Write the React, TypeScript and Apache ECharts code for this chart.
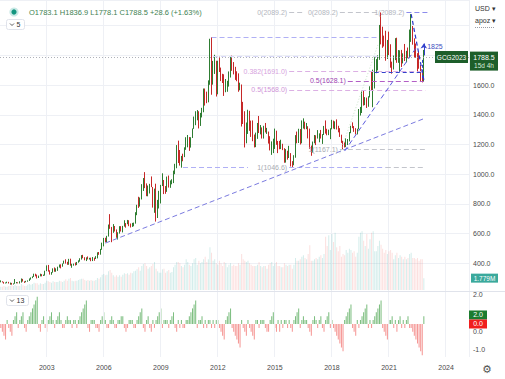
import React, { useEffect, useRef } from 'react';
import * as echarts from 'echarts';

const FONT = '"Liberation Sans", Arial, sans-serif';

// monthly categories start Aug 2000, axis extends to Mar 2025
const firstYear = 2000;
const firstMonth = 8;
const monthCount = 296;
const yearTicks = ['2003', '2006', '2009', '2012', '2015', '2018', '2021', '2024'];
const priceTicks = [400, 600, 800, 1000, 1200, 1400, 1600];
const oscTickLabels = [2, 0, -1];

const opens = [
  276, 278, 274, 265, 270,
  274, 266, 267, 258, 264, 267, 271, 266, 274, 294, 279, 275,
  279, 282, 297, 302, 308, 326, 318, 304, 312, 324, 317, 318,
  348, 368, 347, 336, 339, 364, 346, 355, 375, 388, 386, 398,
  417, 400, 397, 427, 388, 393, 395, 391, 408, 416, 428, 453,
  438, 422, 435, 428, 436, 417, 436, 429, 433, 473, 470, 495,
  517, 569, 556, 583, 654, 643, 613, 633, 623, 599, 604, 646,
  632, 650, 665, 663, 679, 659, 650, 665, 673, 743, 789, 783,
  834, 923, 971, 916, 865, 887, 930, 913, 834, 880, 718, 814,
  884, 928, 942, 916, 883, 980, 927, 955, 955, 1001, 1040, 1180,
  1097, 1081, 1118, 1115, 1180, 1215, 1245, 1181, 1248, 1308, 1357, 1385,
  1421, 1332, 1411, 1439, 1556, 1536, 1500, 1628, 1829, 1620, 1725, 1746,
  1566, 1738, 1711, 1669, 1664, 1561, 1604, 1610, 1692, 1776, 1719, 1712,
  1675, 1663, 1578, 1597, 1472, 1393, 1224, 1312, 1396, 1327, 1323, 1250,
  1202, 1240, 1326, 1284, 1296, 1250, 1322, 1282, 1286, 1210, 1171, 1182,
  1184, 1279, 1213, 1183, 1182, 1190, 1172, 1095, 1132, 1115, 1142, 1064,
  1061, 1118, 1238, 1232, 1293, 1215, 1322, 1350, 1309, 1316, 1277, 1173,
  1152, 1211, 1253, 1249, 1268, 1268, 1242, 1269, 1322, 1280, 1271, 1275,
  1303, 1345, 1318, 1325, 1315, 1299, 1253, 1224, 1206, 1191, 1215, 1222,
  1282, 1325, 1316, 1298, 1284, 1306, 1413, 1437, 1529, 1472, 1513, 1464,
  1523, 1587, 1566, 1596, 1700, 1751, 1800, 1986, 1978, 1895, 1879, 1780,
  1895, 1850, 1728, 1715, 1768, 1905, 1771, 1817, 1818, 1757, 1784, 1776,
  1829, 1796, 1909, 1954, 1911, 1848, 1807, 1781, 1726, 1672, 1640,
];

const highs = [
  285, 279, 275, 271, 276,
  275, 270, 268, 265, 294, 274, 272, 279, 298, 295, 279, 282,
  285, 298, 305, 312, 330, 330, 324, 317, 330, 327, 324, 350,
  386, 389, 353, 341, 366, 372, 366, 377, 392, 393, 399, 418,
  427, 410, 430, 431, 397, 398, 405, 409, 420, 434, 455, 457,
  441, 440, 446, 437, 438, 442, 438, 448, 474, 476, 497, 539,
  571, 572, 585, 661, 731, 645, 664, 651, 628, 609, 650, 650,
  652, 690, 671, 692, 690, 668, 672, 674, 744, 794, 848, 843,
  933, 974, 1014, 938, 924, 935, 985, 914, 903, 936, 827, 888,
  928, 1006, 961, 920, 984, 991, 958, 966, 1024, 1070, 1196, 1226,
  1163, 1123, 1138, 1181, 1249, 1264, 1250, 1249, 1308, 1388, 1424, 1432,
  1424, 1413, 1447, 1577, 1577, 1556, 1632, 1912, 1923, 1763, 1804, 1764,
  1764, 1791, 1718, 1676, 1673, 1641, 1629, 1692, 1790, 1798, 1755, 1723,
  1693, 1679, 1616, 1604, 1487, 1424, 1348, 1434, 1427, 1361, 1362, 1267,
  1280, 1345, 1392, 1331, 1315, 1326, 1345, 1312, 1287, 1256, 1221, 1239,
  1307, 1293, 1224, 1224, 1232, 1205, 1175, 1169, 1158, 1191, 1142, 1088,
  1128, 1263, 1287, 1306, 1304, 1362, 1376, 1354, 1345, 1323, 1307, 1193,
  1220, 1264, 1262, 1297, 1275, 1298, 1270, 1325, 1362, 1306, 1300, 1309,
  1366, 1361, 1356, 1369, 1326, 1310, 1266, 1225, 1214, 1243, 1237, 1284,
  1326, 1349, 1324, 1310, 1306, 1439, 1453, 1557, 1566, 1519, 1516, 1525,
  1592, 1689, 1704, 1788, 1775, 1800, 2005, 2089.2, 1993, 1933, 1966, 1904,
  1960, 1875, 1758, 1799, 1916, 1919, 1836, 1834, 1837, 1814, 1877, 1831,
  1853, 1974, 2078, 1998, 1915, 1880, 1815, 1824, 1735, 1681, 1836.9,
];

const lows = [
  272, 271, 263, 264, 266,
  264, 256, 256, 257, 262, 265, 265, 264, 270, 277, 268, 272,
  276, 281, 290, 300, 308, 312, 298, 301, 312, 312, 315, 317,
  347, 344, 324, 323, 337, 343, 343, 349, 371, 366, 377, 397,
  398, 390, 390, 384, 370, 384, 385, 388, 404, 411, 425, 434,
  420, 415, 426, 425, 414, 415, 417, 429, 433, 457, 458, 491,
  514, 541, 543, 580, 632, 542, 605, 614, 572, 560, 600, 614,
  608, 647, 640, 663, 650, 641, 645, 649, 667, 724, 773, 782,
  830, 887, 906, 852, 851, 870, 913, 775, 740, 681, 705, 769,
  803, 920, 866, 868, 881, 910, 908, 932, 940, 1000, 1040, 1075,
  1058, 1044, 1087, 1115, 1164, 1181, 1157, 1179, 1244, 1305, 1330, 1363,
  1308, 1325, 1382, 1417, 1462, 1478, 1484, 1602, 1535, 1603, 1675, 1523,
  1538, 1688, 1627, 1614, 1527, 1552, 1555, 1590, 1651, 1696, 1672, 1635,
  1626, 1555, 1565, 1321, 1338, 1180, 1208, 1271, 1292, 1251, 1222, 1180,
  1182, 1238, 1277, 1268, 1240, 1240, 1281, 1271, 1206, 1160, 1130, 1142,
  1170, 1198, 1142, 1168, 1169, 1162, 1077, 1078, 1098, 1109, 1052, 1046.6,
  1060, 1111, 1208, 1210, 1200, 1208, 1307, 1302, 1303, 1241, 1171, 1124,
  1146, 1208, 1196, 1240, 1215, 1240, 1204, 1264, 1273, 1262, 1263, 1236,
  1302, 1307, 1303, 1301, 1282, 1251, 1211, 1167.1, 1180, 1182, 1196, 1221,
  1276, 1310, 1285, 1268, 1268, 1302, 1395, 1412, 1462, 1465, 1446, 1454,
  1517, 1564, 1451, 1577, 1680, 1699, 1770, 1874, 1851, 1860, 1764, 1776,
  1802, 1717, 1677, 1705, 1768, 1750, 1750, 1688, 1722, 1746, 1762, 1753,
  1781, 1788, 1891, 1872, 1786, 1784, 1681, 1710, 1622, 1618, 1623,
];

const closes = [
  278, 274, 265, 270, 274,
  266, 267, 258, 264, 267, 271, 266, 274, 294, 279, 275, 279,
  282, 297, 302, 308, 326, 318, 304, 312, 324, 317, 318, 348,
  368, 347, 336, 339, 364, 346, 355, 375, 388, 386, 398, 417,
  400, 397, 427, 388, 393, 395, 391, 408, 416, 428, 453, 438,
  422, 435, 428, 436, 417, 436, 429, 433, 473, 470, 495, 517,
  569, 556, 583, 654, 643, 613, 633, 623, 599, 604, 646, 632,
  650, 665, 663, 679, 659, 650, 665, 673, 743, 789, 783, 834,
  923, 971, 916, 865, 887, 930, 913, 834, 880, 718, 814, 884,
  928, 942, 916, 883, 980, 927, 955, 955, 1001, 1040, 1180, 1097,
  1081, 1118, 1115, 1180, 1215, 1245, 1181, 1248, 1308, 1357, 1385, 1421,
  1332, 1411, 1439, 1556, 1536, 1500, 1628, 1829, 1620, 1725, 1746, 1566,
  1738, 1711, 1669, 1664, 1561, 1604, 1610, 1692, 1776, 1719, 1712, 1675,
  1663, 1578, 1597, 1472, 1393, 1224, 1312, 1396, 1327, 1323, 1250, 1202,
  1240, 1326, 1284, 1296, 1250, 1322, 1282, 1286, 1210, 1171, 1182, 1184,
  1279, 1213, 1183, 1182, 1190, 1172, 1095, 1132, 1115, 1142, 1064, 1061,
  1118, 1238, 1232, 1293, 1215, 1322, 1350, 1309, 1316, 1277, 1173, 1152,
  1211, 1253, 1249, 1268, 1268, 1242, 1269, 1322, 1280, 1271, 1275, 1303,
  1345, 1318, 1325, 1315, 1299, 1253, 1224, 1206, 1191, 1215, 1222, 1282,
  1325, 1316, 1298, 1284, 1306, 1413, 1437, 1529, 1472, 1513, 1464, 1523,
  1587, 1566, 1596, 1700, 1751, 1800, 1986, 1978, 1895, 1879, 1780, 1895,
  1850, 1728, 1715, 1768, 1905, 1771, 1817, 1818, 1757, 1784, 1776, 1829,
  1796, 1909, 1954, 1911, 1848, 1807, 1781, 1726, 1672, 1640, 1788.5,
];

// volume, millions of contracts
const volumesM = [
  0.5, 0.5, 0.6, 0.5, 0.5,
  0.6, 0.6, 0.7, 0.6, 0.8, 0.6, 0.6, 0.6, 0.9, 0.7, 0.6, 0.6,
  0.8, 0.9, 0.8, 0.9, 1.1, 1.0, 1.0, 0.8, 1.0, 0.9, 0.9, 1.1,
  1.4, 1.3, 1.2, 1.1, 1.3, 1.2, 1.2, 1.2, 1.4, 1.3, 1.2, 1.4,
  1.6, 1.4, 1.7, 1.8, 1.4, 1.3, 1.4, 1.4, 1.5, 1.6, 1.7, 1.7,
  1.5, 1.4, 1.5, 1.4, 1.5, 1.4, 1.4, 1.5, 1.8, 1.7, 1.9, 2.3,
  2.4, 2.2, 2.3, 2.8, 3.0, 2.6, 2.2, 2.0, 2.2, 2.0, 2.2, 2.0,
  2.3, 2.5, 2.4, 2.5, 2.3, 2.6, 2.5, 2.8, 2.9, 3.1, 3.4, 2.9,
  3.6, 3.9, 4.0, 3.6, 3.2, 3.4, 3.6, 3.9, 4.2, 3.2, 2.8, 2.6,
  2.6, 3.1, 3.2, 2.6, 2.8, 3.0, 2.6, 2.7, 3.4, 3.8, 4.2, 4.2,
  4.0, 3.6, 3.4, 3.8, 4.6, 4.2, 3.8, 3.6, 4.0, 4.6, 4.8, 3.8,
  4.4, 4.0, 4.2, 4.6, 5.0, 4.2, 4.6, 6.4, 5.6, 4.4, 4.6, 4.0,
  3.8, 4.4, 4.0, 3.6, 4.2, 4.0, 3.4, 3.8, 4.0, 3.6, 3.8, 3.6,
  3.6, 4.0, 3.8, 5.4, 4.6, 4.4, 4.2, 4.4, 4.0, 3.8, 3.6, 3.6,
  3.6, 3.8, 4.2, 3.6, 3.4, 3.6, 3.6, 3.2, 3.8, 4.0, 4.2, 3.6,
  4.0, 4.2, 3.6, 3.6, 3.4, 3.4, 4.0, 3.8, 3.6, 3.8, 3.8, 3.2,
  3.8, 4.8, 4.4, 4.4, 4.6, 5.0, 5.2, 4.8, 4.6, 5.4, 6.7, 4.4,
  4.4, 4.6, 4.8, 4.6, 5.0, 5.2, 4.8, 5.4, 8.0, 6.6, 8.2, 6.0,
  8.4, 7.2, 8.6, 6.4, 5.8, 6.6, 5.0, 5.4, 5.2, 6.0, 5.6, 6.2,
  6.0, 5.6, 5.8, 5.0, 5.6, 8.0, 8.6, 8.8, 7.4, 6.6, 8.4, 6.2,
  7.6, 8.6, 8.8, 5.8, 5.8, 6.6, 7.4, 6.8, 6.2, 5.6, 6.0, 5.4,
  5.8, 6.0, 5.6, 4.6, 5.2, 5.6, 4.8, 5.2, 5.0, 4.6, 5.0, 4.6,
  4.8, 5.4, 5.6, 4.8, 4.8, 4.6, 4.8, 4.4, 4.6, 4.6, 1.779,
];

// sequential count oscillator (up counts positive, down counts negative)
const seqCounts = [
  -1, -2, -3, -4, 1, -1, -2, -3, 1, 2, 3, -1, 1, 2, 3, -1, -2,
  1, 2, 3, 4, 5, 6, 7,
  -1, -2, 1, 2, -1, -2,
  1, 2, 3, 1, -1, 1, 2, 3, 1, -1, -1,
  1, 2, 1, 1, -1, 1, 1, -1,
  1, 2, 3, 4, 5, 6,
  -1, -2, 1, 1, 1, -1, -1, -2,
  1, 2, 3, 1, -1, -1, 1, 2, 1,
  -1, -1, 1, 1, 2, 2, -1, -2, -1,
  1, 1, 1, -1, -1, 1, 2, 3, 4,
  -1, -2, 1, 2, -1, -2, 1, -1,
  1, 2, 3, 4, -1, 1, 1, 1, -1, 1, 2, 3, -1, -2,
  1, -1, 1, -1, -1, 1, 1, 2, 3, 4, 5, 6,
  -1, 1, 1, 2, -1, 1, -1, 1, 1, -1, 1, -1, 1,
  1, -1, -2, -3, -4,
  1, 2, 3, 4,
  -1, -2, -3, -4, -5, -6,
  1, -1, -2, -3,
  1, -1, -2, -3, -4,
  1, 1, -1, 1, 1, 1, -1, -2, -2,
  1, 2, 3, -1, -2, 1,
  -2, 1, -1, 1, 1, -1, 1, -1, -2,
  1, 2, 3, 4,
  -1, 1, 2, 1, 1, -1, -2, -3,
  1, 2, 1, -1, 1, 2, -1, -2,
  1, 2, 3, -1, 1,
  -1, -2, -3, -4, -5, -6, -7,
  1, 2, 3, 4, 5,
  -1, -2, -3,
  1, -1, 1, 2, 3, 4, 5,
  -1, 1, -1,
  1, 2, 3, 4, 5, 6,
  -1, -2, -3, -4,
  1, 1, 2, -1, 1, -2, 1, 2, -1, 1, -1, 1, 2, -1,
  -1, -2, -3, -4, -5, -6, -7, -8,
  2,
];

// chart drawings: [category, price] endpoints
type Drawing = { from: [string, number]; to: [string, number]; color: string; dash: number[]; width?: number; text?: string; textColor?: string; arrow?: boolean };
const drawings: Drawing[] = [
  { from: ['2011-09', 1923], to: ['2020-07', 1923], color: '#b0b0f5', dash: [5, 3] },
  { from: ['2015-10', 2089.2], to: ['2016-08', 2089.2], color: '#c3c5cc', dash: [5, 3], text: '0(2089.2)', textColor: '#b2b5be' },
  { from: ['2018-06', 2089.2], to: ['2020-06', 2089.2], color: '#c3c5cc', dash: [5, 3], text: '0(2089.2)', textColor: '#b2b5be' },
  { from: ['2021-12', 2089.2], to: ['2023-02', 2089.2], color: '#8c8cec', dash: [5, 3], text: '1(2089.2)', textColor: '#b2b5be' },
  { from: ['2011-10', 1795], to: ['2020-06', 1795], color: '#d8d8f7', dash: [5, 3] },
  { from: ['2015-10', 1691], to: ['2022-12', 1691], color: '#dcb0e4', dash: [5, 3], text: '0.382(1691.0)', textColor: '#d6a3de' },
  { from: ['2018-11', 1628.1], to: ['2022-11', 1628.1], color: '#b25ec6', dash: [5, 3], text: '0.5(1628.1)', textColor: '#9c3fb2' },
  { from: ['2015-10', 1568], to: ['2022-12', 1568], color: '#dcb0e4', dash: [5, 3], text: '0.5(1568.0)', textColor: '#cf95d8' },
  { from: ['2018-06', 1167.1], to: ['2022-12', 1167.1], color: '#c3c5cc', dash: [5, 3], text: '1(1167.1)', textColor: '#a8abb3' },
  { from: ['2010-03', 1046.6], to: ['2013-08', 1046.6], color: '#b0b0f5', dash: [5, 3] },
  { from: ['2015-10', 1046.6], to: ['2020-11', 1046.6], color: '#b0b0f5', dash: [5, 3], text: '1(1046.6)', textColor: '#a8abb3' },
  { from: ['2020-11', 1046.6], to: ['2022-12', 1046.6], color: '#c3c5cc', dash: [5, 3] },
  { from: ['2006-02', 536], to: ['2022-12', 1378], color: '#7b7be0', dash: [5, 3] },
  { from: ['2018-09', 1156], to: ['2022-06', 1849], color: '#5a5ade', dash: [5, 3] },
  { from: ['2018-06', 1140], to: ['2020-06', 1870], color: '#c8e4c8', dash: [1, 2] },
  { from: ['2022-03', 2078], to: ['2022-11', 1634], color: '#2a36c8', dash: [4, 3], width: 1.2 },
  { from: ['2020-04', 1688], to: ['2022-10', 1688], color: '#3341cc', dash: [4, 3] },
  { from: ['2022-10', 1770], to: ['2022-10', 1640], color: '#3341cc', dash: [3, 2] },
  { from: ['2022-11', 1800], to: ['2022-11', 1880], color: '#3341cc', dash: [], arrow: true },
];
const rangeLabel = { at: ['2023-06', 1862] as [string, number], text: '1825' };

const headerText = 'O1783.1 H1836.9 L1778.1 C1788.5 +28.6 (+1.63%)';
const symbolText = 'GCG2023';
const countdownText = '15d 4h';
const volumeText = '1.779M';

const UP = '#2e7d32';
const DOWN = '#c62828';

export default function App() {
  const ref = useRef<HTMLDivElement>(null);
  useEffect(() => {
    const el = ref.current;
    if (!el) return;
    const chart = echarts.init(el, undefined, { renderer: 'svg' });

    const categories: string[] = [];
    for (let i = 0; i < monthCount; i++) {
      const t = firstYear * 12 + (firstMonth - 1) + i;
      const y = Math.floor(t / 12);
      const m = (t % 12) + 1;
      categories.push(`${y}-${m < 10 ? '0' + m : m}`);
    }
    const isYearTick = (_i: number, v: string) => v.endsWith('-01') && yearTicks.includes(v.slice(0, 4));

    const candleData = closes.map((c, i) => [opens[i], c, lows[i], highs[i]]);
    const volData = volumesM.map((v, i) => ({
      value: v,
      itemStyle: { color: closes[i] >= opens[i] ? 'rgba(38,166,154,0.2)' : 'rgba(239,83,80,0.18)' },
    }));
    const oscData = seqCounts.map((v) => ({
      value: v,
      itemStyle: { color: v >= 0 ? 'rgba(67,160,71,0.68)' : 'rgba(239,83,80,0.6)' },
    }));

    const markLineData: any[] = drawings.map((d) => [
      {
        coord: d.from,
        lineStyle: { color: d.color, type: d.dash.length ? d.dash : 'solid', width: d.width || 1 },
        label: d.text
          ? { show: true, position: 'start', formatter: d.text, color: d.textColor, fontSize: 7, fontFamily: FONT, distance: 2 }
          : { show: false },
      },
      d.arrow ? { coord: d.to, symbol: 'arrow', symbolSize: 5 } : { coord: d.to },
    ]);
    const lastClose = closes[closes.length - 1];
    markLineData.push({
      yAxis: lastClose,
      lineStyle: { color: '#9a9da6', type: [1, 2], width: 0.8 },
      label: { show: false },
    });

    const axisLabelStyle = { color: '#4a4a4a', fontSize: 7, fontFamily: FONT };

    chart.setOption({
      animation: false,
      textStyle: { fontFamily: FONT },
      grid: [
        { left: 0, top: 0, width: 469, height: 293 },
        { left: 0, top: 190, width: 469, height: 100 },
        { left: 0, top: 292, width: 469, height: 65 },
      ],
      xAxis: [
        {
          type: 'category', gridIndex: 0, data: categories, boundaryGap: true,
          axisLine: { show: false }, axisTick: { show: false }, axisLabel: { show: false },
          splitLine: { show: true, interval: isYearTick, lineStyle: { color: '#eef0f5', width: 1 } },
        },
        { type: 'category', gridIndex: 1, data: categories, boundaryGap: true, show: false },
        {
          type: 'category', gridIndex: 2, data: categories, boundaryGap: true, z: 3,
          axisLine: { show: false }, axisTick: { show: false },
          axisLabel: { ...axisLabelStyle, interval: isYearTick, formatter: (v: string) => v.slice(0, 4), margin: 7 },
          splitLine: { show: true, interval: isYearTick, lineStyle: { color: '#eef0f5', width: 1 } },
        },
      ],
      yAxis: [
        {
          type: 'value', gridIndex: 0, position: 'right', min: 200, max: 2173, interval: 200,
          axisLine: { show: false }, axisTick: { show: false },
          splitLine: { show: true, lineStyle: { color: '#eef0f5', width: 1 } },
          axisLabel: {
            ...axisLabelStyle, margin: 4,
            formatter: (v: number) => (priceTicks.includes(v) ? v.toFixed(1) : ''),
          },
        },
        { type: 'value', gridIndex: 1, min: 0, max: 15, show: false },
        { type: 'value', gridIndex: 2, min: -8.46, max: 8.2, show: false },
        {
          type: 'value', gridIndex: 2, position: 'right', min: -1.42, max: 2.13, z: 3,
          axisLine: { show: false }, axisTick: { show: false }, splitLine: { show: false },
          axisLabel: { ...axisLabelStyle, margin: 4, customValues: oscTickLabels, formatter: (v: number) => v.toFixed(1) },
        },
      ],
      series: [
        {
          type: 'candlestick', xAxisIndex: 0, yAxisIndex: 0, data: candleData, barWidth: '72%',
          itemStyle: { color: UP, color0: DOWN, borderColor: UP, borderColor0: DOWN, borderWidth: 1 },
          markLine: { silent: true, symbol: ['none', 'none'], animation: false, data: markLineData },
          markPoint: {
            silent: true,
            data: [{
              coord: rangeLabel.at, symbol: 'circle', symbolSize: 1, itemStyle: { color: 'rgba(0,0,0,0)' },
              label: { show: true, position: 'inside', formatter: rangeLabel.text, color: '#3f4fc0', fontSize: 7, fontFamily: FONT },
            }],
          },
        },
        { type: 'bar', xAxisIndex: 1, yAxisIndex: 1, data: volData, barWidth: '62%' },
        { type: 'bar', xAxisIndex: 2, yAxisIndex: 2, data: oscData, barWidth: '66%' },
      ],
    });

    const py = chart.convertToPixel({ yAxisIndex: 0 }, lastClose) as number;
    const vy = chart.convertToPixel({ yAxisIndex: 1 }, volumesM[volumesM.length - 1]) as number;
    const lastCount = seqCounts[seqCounts.length - 1];
    const oRed = chart.convertToPixel({ yAxisIndex: 2 }, 0) as number;
    let oGreen = chart.convertToPixel({ yAxisIndex: 2 }, lastCount) as number;
    if (oGreen > oRed - 9) oGreen = oRed - 9;

    const txt = (x: number, y: number, text: string, fill: string, size: number, align = 'left', family = FONT, z = 20) => ({
      type: 'text', x, y, z, silent: true,
      style: { text, fill, fontSize: size, fontFamily: family, align, verticalAlign: 'middle', textAlign: align, textVerticalAlign: 'middle' },
    });

    chart.setOption({
      graphic: [
        { type: 'rect', z: 1, silent: true, shape: { x: 0, y: 291, width: 505, height: 88 }, style: { fill: '#ffffff' } },
        { type: 'line', z: 5, silent: true, shape: { x1: 0, y1: 291.5, x2: 505, y2: 291.5 }, style: { stroke: '#e0e3eb', lineWidth: 1 } },
        // header
        { type: 'circle', z: 20, silent: true, shape: { cx: 14, cy: 12, r: 4.6 }, style: { fill: 'rgba(38,166,154,0.25)' } },
        { type: 'circle', z: 21, silent: true, shape: { cx: 14, cy: 12, r: 2.6 }, style: { fill: '#12957f' } },
        txt(29, 12.5, headerText, '#3e7f52', 7.5),
        { type: 'rect', z: 20, silent: true, shape: { x: 6.5, y: 19.5, width: 18, height: 10, r: 2 }, style: { fill: '#fff', stroke: '#e0e3eb', lineWidth: 1 } },
        { type: 'polyline', z: 21, silent: true, shape: { points: [[10, 23.5], [12, 25.5], [14, 23.5]] }, style: { stroke: '#333', lineWidth: 0.8, fill: 'none' } },
        txt(16.5, 24.8, '5', '#333', 7),
        { type: 'rect', z: 20, silent: true, shape: { x: 6.5, y: 295.5, width: 22, height: 10, r: 2 }, style: { fill: '#fff', stroke: '#e0e3eb', lineWidth: 1 } },
        { type: 'polyline', z: 21, silent: true, shape: { points: [[10, 299.5], [12, 301.5], [14, 299.5]] }, style: { stroke: '#333', lineWidth: 0.8, fill: 'none' } },
        txt(16.5, 300.8, '13', '#333', 7),
        // top right
        txt(475, 8.5, 'USD ▾', '#333', 7),
        txt(475, 20.5, 'apoz ▾', '#333', 7),
        { type: 'line', z: 20, silent: true, shape: { x1: 475, y1: 27.5, x2: 494, y2: 27.5 }, style: { stroke: '#9a9da5', lineWidth: 1, lineDash: [1, 1] } },
        // price badges
        { type: 'rect', z: 20, silent: true, shape: { x: 435, y: py - 6, width: 33, height: 12 }, style: { fill: '#1d5e2a' } },
        txt(451.5, py, symbolText, '#ffffff', 6.5, 'center'),
        { type: 'rect', z: 20, silent: true, shape: { x: 470, y: py - 5.5, width: 28, height: 19 }, style: { fill: '#1d5e2a' } },
        txt(484, py, lastClose.toFixed(1), '#ffffff', 7, 'center'),
        txt(484, py + 8.5, countdownText, '#d7ecd9', 6.5, 'center'),
        // volume badge
        { type: 'rect', z: 20, silent: true, shape: { x: 471, y: vy - 4.5, width: 27, height: 9 }, style: { fill: '#3aa99c' } },
        txt(484.5, vy, volumeText, '#ffffff', 6.5, 'center'),
        // oscillator badges
        { type: 'rect', z: 20, silent: true, shape: { x: 469, y: oGreen - 4.5, width: 18, height: 9 }, style: { fill: '#1c7c2f' } },
        txt(478, oGreen, lastCount.toFixed(1), '#ffffff', 7, 'center'),
        { type: 'rect', z: 20, silent: true, shape: { x: 469, y: oRed - 4.5, width: 18, height: 9 }, style: { fill: '#f01e1e' } },
        txt(478, oRed, (0).toFixed(1), '#ffffff', 7, 'center'),
        // settings gear
        txt(487, 369, '⚙', '#555', 11, 'center', '"DejaVu Sans", sans-serif'),
      ],
    });

    return () => chart.dispose();
  }, []);

  return (
    <div
      ref={ref}
      style={{ position: 'fixed', left: 0, top: 0, width: 505, height: 379, background: '#ffffff' }}
    />
  );
}
